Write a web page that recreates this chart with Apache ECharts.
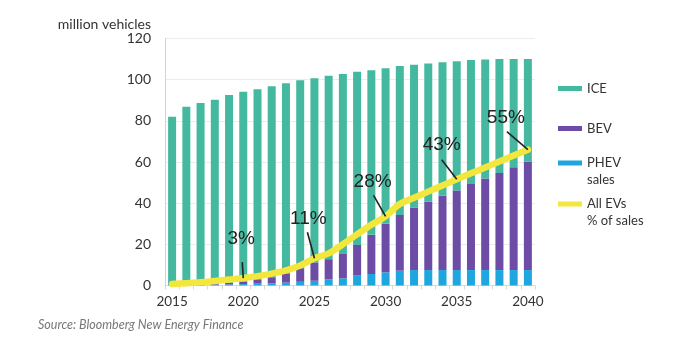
<!DOCTYPE html>
<html>
<head>
<meta charset="utf-8">
<script src="https://cdn.jsdelivr.net/npm/echarts@6/dist/echarts.min.js"></script>
<style>
  html, body { margin: 0; padding: 0; background: #ffffff; }
  #chart { width: 693px; height: 345px; }
</style>
</head>
<body>
<div id="chart"></div>
<script>
// Global passenger vehicle sales outlook, million vehicles per year
const years = ['2015','2016','2017','2018','2019','2020','2021','2022','2023','2024','2025','2026','2027',
               '2028','2029','2030','2031','2032','2033','2034','2035','2036','2037','2038','2039','2040'];
const phevSales = [0.1,0.2,0.3,0.4,0.5,0.7,0.9,1.1,1.4,1.8,2.3,3.0,3.5,4.8,5.6,6.4,7.2,7.5,7.5,7.5,7.5,7.5,7.5,7.5,7.5,7.5];
const bevSales  = [0.1,0.2,0.3,0.5,0.8,1.2,2.1,2.9,4.5,6.6,8.9,9.8,11.8,14.9,19.0,23.6,27.1,30.4,33.2,36.1,38.7,41.8,44.5,47.1,49.9,52.8];
const iceSales  = [81.8,86.4,88.1,89.4,91.3,92.2,92.3,92.8,92.4,91.3,89.5,89.1,87.5,84.1,80.0,75.6,72.4,69.3,67.2,64.9,62.8,60.2,57.8,55.4,52.6,49.7];
// Share of all EVs in annual sales, %
const evShare   = [0.6,0.9,1.3,1.8,2.4,3,3.8,4.8,6.1,8.1,11,13,16.7,20.7,24.6,28,33,35.5,38,40.5,43,45.4,47.8,50.2,52.6,55];
// Callout years and their stated shares
const calloutYears  = ['2020','2025','2030','2035','2040'];
const calloutShares = [3, 11, 28, 43, 55];
const yTicks = [0, 20, 40, 60, 80, 100, 120];

// Callout geometry: text centre and leader start, relative to the point (px)
const calloutOffsets = [
  { tx: -2,  ty: -39,   lx: -1,  ly: -16 },
  { tx: -6,  ty: -40,   lx: -7,  ly: -26 },
  { tx: -13, ty: -35,   lx: -12, ly: -21 },
  { tx: -15, ty: -34.5, lx: -15, ly: -19.5 },
  { tx: -22, ty: -32,   lx: -21, ly: -18 }
];

const FONT = 'Lato, "Open Sans", sans-serif';
const C_ICE = '#45b99f', C_BEV = '#6c4ca5', C_PHEV = '#1ea6de', C_EV = '#f3e63c';

const chart = echarts.init(document.getElementById('chart'), null, { renderer: 'canvas' });

// One legend block per entry; two-line entries get an empty leading line so
// the swatch lines up with the first line of text.
function legendBlock(name, top, twoLines) {
  const block = {
    orient: 'vertical', left: 558, top: top, padding: 0,
    data: [name],
    icon: 'rect', itemWidth: 24, itemHeight: 5, itemGap: 0,
    selectedMode: false,
    textStyle: { fontFamily: FONT, fontSize: 13, color: '#333', lineHeight: 17 }
  };
  if (twoLines) block.formatter = function (n) { return '\n' + n; };
  return block;
}

chart.setOption({
  animation: false,
  backgroundColor: '#ffffff',
  title: {
    text: 'Source: Bloomberg New Energy Finance',
    left: 38, top: 318, padding: 0,
    textStyle: { fontFamily: FONT, fontSize: 12.5, fontStyle: 'italic', fontWeight: 'normal', color: '#777' }
  },
  legend: [
    legendBlock('ICE', 80, false),
    legendBlock('BEV', 120, false),
    legendBlock('PHEV\nsales', 137.5, true),
    legendBlock('All EVs\n% of sales', 178.5, true)
  ],
  grid: { left: 165, right: 158, top: 38.5, bottom: 59.5, containLabel: false },
  xAxis: {
    type: 'category',
    data: years,
    boundaryGap: true,
    axisLine: { show: true, lineStyle: { color: '#d9d9d9', width: 1 } },
    axisTick: { show: true, interval: 0, length: 4, lineStyle: { color: '#d9d9d9' } },
    axisLabel: { interval: 4, margin: 9, fontFamily: FONT, fontSize: 13.5, color: '#333' }
  },
  yAxis: [
    {
      type: 'value', min: yTicks[0], max: yTicks[yTicks.length - 1], interval: 20,
      name: 'million vehicles', nameLocation: 'end', nameGap: 7,
      nameTextStyle: { fontFamily: FONT, fontSize: 14, color: '#333', align: 'right', padding: [0, 14, 0, 0] },
      axisLine: { show: true, lineStyle: { color: '#d4d4d4' } },
      axisTick: { show: false },
      axisLabel: { margin: 14, fontFamily: FONT, fontSize: 14, color: '#333' },
      splitLine: { show: true, lineStyle: { color: '#ececec' } }
    },
    {
      type: 'value', min: 0, max: 100, show: false,
      splitLine: { show: false }
    }
  ],
  series: [
    { name: 'PHEV\nsales', type: 'bar', stack: 'sales', data: phevSales, barWidth: 8,
      itemStyle: { color: C_PHEV } },
    { name: 'BEV', type: 'bar', stack: 'sales', data: bevSales, barWidth: 8,
      itemStyle: { color: C_BEV } },
    { name: 'ICE', type: 'bar', stack: 'sales', data: iceSales, barWidth: 8,
      itemStyle: { color: C_ICE } },
    { name: 'All EVs\n% of sales', type: 'line', yAxisIndex: 1, data: evShare,
      smooth: 0.3, showSymbol: false, symbol: 'none', z: 5,
      lineStyle: { color: C_EV, width: 6.5, cap: 'round', join: 'round' },
      itemStyle: { color: C_EV } },
    { name: 'callouts', type: 'custom', yAxisIndex: 1, z: 6,
      data: calloutYears.map((y, i) => [y, calloutShares[i]]),
      renderItem: function (params, api) {
        const i = params.dataIndex;
        const p = api.coord([api.value(0), api.value(1)]);
        const o = calloutOffsets[i];
        return {
          type: 'group',
          children: [
            { type: 'line',
              shape: { x1: p[0] + o.lx, y1: p[1] + o.ly, x2: p[0], y2: p[1] },
              style: { stroke: '#222', lineWidth: 1.6 } },
            { type: 'text',
              x: p[0] + o.tx, y: p[1] + o.ty,
              style: { text: calloutShares[i] + '%', fill: '#222',
                       font: '19px "Liberation Sans", Arial, sans-serif',
                       textAlign: 'center', textVerticalAlign: 'middle' } }
          ]
        };
      }
    }
  ]
});
</script>
</body>
</html>
